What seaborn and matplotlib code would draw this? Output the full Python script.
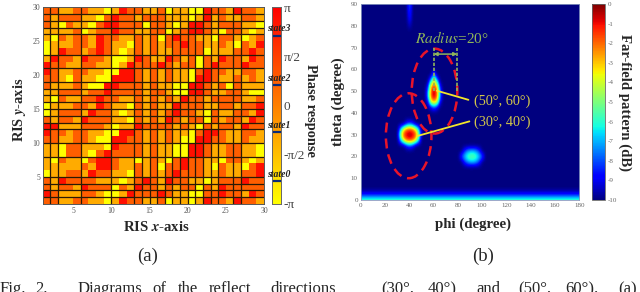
import numpy as np
import matplotlib.pyplot as plt
import seaborn as sns
from matplotlib.patches import Ellipse

# quantised RIS states, top row (y=30) first, one string per row
ris_rows = [
    "22112211013221120110032213221",
    "21222110232212221110131211221",
    "21021102332220221013321222110",
    "11112012232211220123321022101",
    "10212213221121202322110221012",
    "01112213211021212232211210213",
    "01322123210121211222201112232",
    "13221322100132113212021322132",
    "32211221101322232122023222322",
    "32112211003321212110232211221",
    "22102110033321212110332112121",
    "21112100332221211003321202111",
    "11222122322221221003321122100",
    "10211223221121212132212222112",
    "01112213211021211322211221223",
    "01222132210121212322102112213",
    "21221322211021213212202122132",
    "33111222101132222121021221322",
    "32212211003321212110233211221",
    "22112210033221212100332211211",
    "11022111032221211003321122110",
    "11022102322221211003321122110",
    "10211023321101210232211022101",
    "11111213321121202232210211023",
    "01122132211021212322211211223",
    "21322221110123213221101222322",
    "21221322202132212122021322222",
    "32111221001322232110022322132",
    "22112211013221120110132213221",
]
state_phase = [-3.14, -1.07, 0.82, 2.77]
phase_ticks = [-np.pi, -np.pi / 2, 0, np.pi / 2, np.pi]
phase_labels = ["-π", "-π/2", "0", "π/2", "π"]
ris_ticks = [5, 10, 15, 20, 25, 30]
state_names = ["state0", "state1", "state2", "state3"]
state_marks = [-2.42, -0.83, 0.66, 2.24]
vert_bounds = [1, 2, 5, 9, 12, 13, 14, 15, 16, 17, 18, 19, 20, 21, 22, 23, 25, 26]
horiz_bounds = [1, 2, 3, 4, 7, 9, 11, 12, 13, 14, 15, 16, 17, 18, 20, 22, 25, 26, 27, 28]

phi_grid = np.arange(0, 182.5, 2.5)
theta_grid = np.arange(0, 92.5, 2.5)
background_db = -10
bottom_rows = [-5.5, -8.6]
spur_phi = 40
spur_theta = [80, 82.5, 85, 87.5, 90]
spur_db = [-9.4, -8.7, -8.2, -7.8, -7.3]
blob_a_phi = [27.5, 30, 32.5, 35, 37.5, 40, 42.5, 45, 47.5, 50, 52.5]
blob_a_theta = [35, 32.5, 30, 27.5, 25]
blob_a_db = [
    [-10, -10, -10, -10, -8.6, -7.8, -8.6, -10, -10, -10, -10],
    [-10, -10, -7, -3.6, -1.8, -1.4, -1.8, -3.6, -7, -10, -10],
    [-10, -10, -4.5, -1.6, -0.6, -0.2, -0.6, -1.6, -4.5, -10, -10],
    [-10, -10, -7, -3.6, -1.8, -1.4, -1.8, -3.6, -7, -10, -10],
    [-10, -10, -10, -10, -8.6, -7.8, -8.6, -10, -10, -10, -10],
]
blob_b_phi = [52.5, 55, 57.5, 60, 62.5, 65, 67.5]
blob_b_theta = [60, 57.5, 55, 52.5, 50, 47.5, 45, 42.5]
blob_b_db = [
    [-10, -10, -10, -10, -10, -10, -10],
    [-10, -10, -10, -7, -10, -10, -10],
    [-10, -10, -7, -3.5, -7, -10, -10],
    [-10, -9, -3.2, -1.5, -3.2, -9, -10],
    [-10, -7.5, -2, -0.3, -2, -7.5, -10],
    [-10, -7.3, -1.8, -0.3, -1.8, -7.3, -10],
    [-10, -9, -4, -2.8, -4, -9, -10],
    [-10, -10, -9, -8, -9, -10, -10],
]
blob_c_phi = [82.5, 85, 87.5, 90, 92.5, 95, 97.5, 100]
blob_c_theta = [22.5, 20, 17.5]
blob_c_db = [
    [-10, -8.5, -7.3, -6.8, -6.8, -7.3, -8.5, -10],
    [-8, -6.8, -5.8, -5.3, -5.3, -5.8, -6.8, -8],
    [-10, -8.5, -7.3, -6.8, -6.8, -7.3, -8.5, -10],
]
db_ticks = list(range(-10, 1))
phi_ticks = list(range(0, 200, 20))
theta_ticks = list(range(0, 100, 10))
direction_labels = ["(50°, 60°)", "(30°, 40°)"]

sns.set_style("white")
plt.rcParams["font.family"] = ["Liberation Serif", "DejaVu Serif"]
plt.rcParams["mathtext.fontset"] = "stix"
plt.rcParams["axes.unicode_minus"] = False

W, H = 640, 292
fig = plt.figure(figsize=(W / 100, H / 100), dpi=100)


def px_axes(left, top, right, bottom):
    return fig.add_axes([left / W, 1 - bottom / H, (right - left) / W, (bottom - top) / H])


def fig_text(x, y, s, **kw):
    kw.setdefault("ha", "center")
    kw.setdefault("va", "center")
    fig.text(x / W, 1 - y / H, s, **kw)


# (a) phase map
ax1 = px_axes(42.7, 7.3, 264, 204)
cax1 = px_axes(271.7, 7.3, 280.7, 204)
phase = np.array([[state_phase[int(c)] for c in row] for row in ris_rows])
sns.heatmap(phase, ax=ax1, cbar_ax=cax1, cmap="autumn_r", vmin=-np.pi, vmax=np.pi,
            xticklabels=False, yticklabels=False)
ax1.vlines(vert_bounds, 0, 29, color="#2a1a05", lw=0.9)
ax1.hlines(horiz_bounds, 0, 29, color="#2a1a05", lw=0.9)
ax1.set_xticks([v - 1 for v in ris_ticks], ris_ticks)
ax1.set_yticks([30 - v for v in ris_ticks], ris_ticks)
ax1.tick_params(length=0, pad=2, labelsize=5.5, labelcolor="#555555")
for s in ax1.spines.values():
    s.set_visible(True)
    s.set_color("#555555")
    s.set_linewidth(0.7)
ax1.set_xlabel("RIS $\\mathbfit{x}$-axis", fontsize=10.6, fontweight="bold", va="center")
ax1.set_ylabel("RIS $\\mathbfit{y}$-axis", fontsize=10.4, fontweight="bold", va="center")
ax1.xaxis.set_label_coords(0.515, -0.115)
ax1.yaxis.set_label_coords(-0.103, 0.478)

cax1.set_yticks(phase_ticks, phase_labels)
cax1.tick_params(length=0, pad=2, labelsize=9.5, labelcolor="#444444")
for s in cax1.spines.values():
    s.set_visible(True)
    s.set_color("#666666")
    s.set_linewidth(0.6)
cax1.hlines(state_marks, 0, 1, transform=cax1.get_yaxis_transform(), color="#0a2a78", lw=1.6,
            clip_on=False)
for name, mark in zip(state_names, state_marks):
    cax1.annotate(name, (0.5, mark), xycoords=cax1.get_yaxis_transform(), xytext=(1.5, 1.5),
                  textcoords="offset points", ha="center", va="bottom", fontsize=7,
                  style="italic", fontweight="bold", color="#222222", annotation_clip=False)
fig_text(310, 110, "Phase response", rotation=270, fontsize=10.4, fontweight="bold")

# (b) far field
field = np.full((len(theta_grid), len(phi_grid)), float(background_db))
field[0, :] = bottom_rows[0]
field[1, :] = bottom_rows[1]
field[np.searchsorted(theta_grid, spur_theta), np.searchsorted(phi_grid, spur_phi)] = spur_db
for phis, thetas, vals in [(blob_a_phi, blob_a_theta, blob_a_db),
                           (blob_b_phi, blob_b_theta, blob_b_db),
                           (blob_c_phi, blob_c_theta, blob_c_db)]:
    rows = np.searchsorted(theta_grid, thetas)
    cols = np.searchsorted(phi_grid, phis)
    field[np.ix_(rows, cols)] = vals

ax2 = px_axes(360.7, 4, 579.3, 200)
cax2 = px_axes(592.3, 4, 605.3, 200)
im = ax2.imshow(field, origin="lower", cmap="jet", vmin=-10, vmax=0, aspect="auto",
                interpolation="bicubic",
                extent=(phi_grid[0] - 1.25, phi_grid[-1] + 1.25,
                        theta_grid[0] - 1.25, theta_grid[-1] + 1.25))
ax2.set_xlim(0, 180)
ax2.set_ylim(0, 90)
ax2.set_xticks(phi_ticks)
ax2.set_yticks(theta_ticks)
ax2.tick_params(length=0, pad=2, labelsize=5, labelcolor="#666666")
for s in ax2.spines.values():
    s.set_visible(True)
    s.set_color("#8a9ac0")
    s.set_linewidth(0.6)
ax2.set_xlabel("phi (degree)", fontsize=10.7, fontweight="bold", va="center")
ax2.set_ylabel("theta (degree)", fontsize=10.9, fontweight="bold", va="center")
ax2.xaxis.set_label_coords(0.514, -0.125)
ax2.yaxis.set_label_coords(-0.104, 0.5)

cbar2 = fig.colorbar(im, cax=cax2)
cbar2.set_ticks(db_ticks)
cbar2.ax.tick_params(length=0, pad=2, labelsize=5, labelcolor="#666666")
cbar2.outline.set_edgecolor("#666666")
cbar2.outline.set_linewidth(0.6)
fig_text(625, 103, "Far-field pattern (dB)", rotation=270, fontsize=10.6, fontweight="bold")

for center, w, h in [((39.5, 29.5), 37.5, 39), ((60.8, 50), 37.5, 39)]:
    ax2.add_patch(Ellipse(center, w, h, fill=False, ec="#e8142a", lw=1.8, ls=(0, (4, 2.4))))

green = "#8fb55a"
ax2.plot([60, 60], [50, 70], color=green, lw=1.2, ls=(0, (2, 1)))
ax2.plot([79.5, 79.5], [50, 70], color=green, lw=1.2, ls=(0, (2, 1)))
ax2.annotate("", xy=(60, 67), xytext=(79.5, 67),
             arrowprops=dict(arrowstyle="<|-|>", color=green, lw=1.1, mutation_scale=5,
                             shrinkA=0, shrinkB=0))
ax2.text(75, 74.5, "$\\mathit{Radius}$=20°", color=green, fontsize=11, ha="center", va="center")

ax2.plot([62.6, 88.7], [50.2, 46], color="#f2e62a", lw=1.3)
ax2.plot([46.7, 89.5], [29.4, 36.1], color="#f2e62a", lw=1.3)
fig_text(502.5, 101, direction_labels[0], color="#d2c64a", fontsize=10.3)
fig_text(502.5, 122, direction_labels[1], color="#d2c64a", fontsize=10.3)

# sub captions
fig_text(148, 256, "(a)", fontsize=13.5)
fig_text(483, 256, "(b)", fontsize=13.5)
caption_words = ["Fig.", "2.", "Diagrams", "of", "the", "reflect", "directions",
                 "(30°,", "40°)", "and", "(50°,", "60°).", "(a)"]
caption_x = [0, 35, 78, 152, 178, 209, 270, 381, 428, 476, 518, 565, 618]
for word, x in zip(caption_words, caption_x):
    fig.text(x / W, 1 - 293 / H, word, fontsize=12, ha="left", va="baseline")

fig.savefig("out.png", dpi=100)
